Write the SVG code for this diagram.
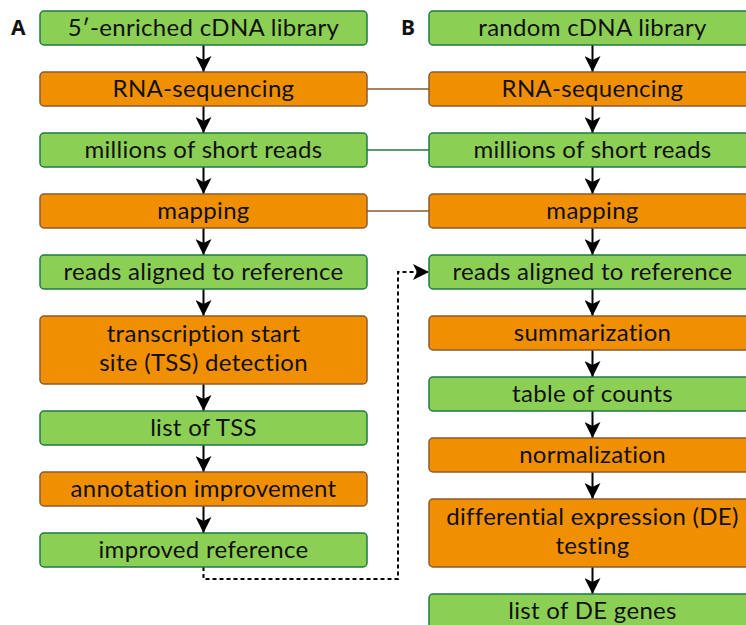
<svg xmlns="http://www.w3.org/2000/svg" width="746" height="625" viewBox="0 0 746 625">
<defs>
<marker id="ah" viewBox="0 0 16 16" refX="16" refY="8" markerWidth="16" markerHeight="16" markerUnits="userSpaceOnUse" orient="auto">
<path d="M0,0 L16,8 L0,16 L4,8 Z" fill="#000"/>
</marker>
<style>
.g{fill:#8ccf55;stroke:#1e7a45;stroke-width:1.5}
.o{fill:#f09000;stroke:#8a5a30;stroke-width:1.5}
.t{font-family:Lato,"Noto Sans",sans-serif;font-size:24px;letter-spacing:0.3px;fill:#111;text-anchor:middle}
.lbl{font-family:"Noto Sans",sans-serif;font-size:21px;font-weight:bold;fill:#111}
.a{stroke:#000;stroke-width:2;fill:none;marker-end:url(#ah)}
</style>
</defs>
<rect width="746" height="625" fill="#fff"/>
<text class="lbl" x="11" y="35">A</text>
<text class="lbl" x="401" y="35">B</text>
<g id="connectors">
<path class="a" d="M203.5,45 V72"/>
<path class="a" d="M203.5,106 V133"/>
<path class="a" d="M203.5,167 V194"/>
<path class="a" d="M203.5,228 V255"/>
<path class="a" d="M203.5,289 V316"/>
<path class="a" d="M203.5,384 V411"/>
<path class="a" d="M203.5,445 V472"/>
<path class="a" d="M203.5,506 V533"/>
<path class="a" d="M592.5,45 V72"/>
<path class="a" d="M592.5,106 V133"/>
<path class="a" d="M592.5,167 V194"/>
<path class="a" d="M592.5,228 V255"/>
<path class="a" d="M592.5,289 V316"/>
<path class="a" d="M592.5,350 V377"/>
<path class="a" d="M592.5,411 V438"/>
<path class="a" d="M592.5,472 V499"/>
<path class="a" d="M592.5,567 V594"/>
<path d="M367,89 H429" stroke="#8a5a30" stroke-width="1.5"/>
<path d="M367,150 H429" stroke="#1e7a45" stroke-width="1.5"/>
<path d="M367,211 H429" stroke="#8a5a30" stroke-width="1.5"/>
<path d="M203.5,567 V579 H398 V272 H429" stroke="#000" stroke-width="2" fill="none" stroke-dasharray="4,3" marker-end="url(#ah)"/>
</g>
<g id="a1"><rect class="g" x="40" y="11" width="327" height="34" rx="4"/><text class="t" x="203.5" y="36">5′-enriched cDNA library</text></g>
<g id="a2"><rect class="o" x="40" y="72" width="327" height="34" rx="4"/><text class="t" x="203.5" y="97">RNA-sequencing</text></g>
<g id="a3"><rect class="g" x="40" y="133" width="327" height="34" rx="4"/><text class="t" x="203.5" y="158">millions of short reads</text></g>
<g id="a4"><rect class="o" x="40" y="194" width="327" height="34" rx="4"/><text class="t" x="203.5" y="219">mapping</text></g>
<g id="a5"><rect class="g" x="40" y="255" width="327" height="34" rx="4"/><text class="t" x="203.5" y="280">reads aligned to reference</text></g>
<g id="a6"><rect class="o" x="40" y="316" width="327" height="68" rx="4"/><text class="t" x="203.5" y="342">transcription start</text><text class="t" x="203.5" y="371">site (TSS) detection</text></g>
<g id="a7"><rect class="g" x="40" y="411" width="327" height="34" rx="4"/><text class="t" x="203.5" y="436">list of TSS</text></g>
<g id="a8"><rect class="o" x="40" y="472" width="327" height="34" rx="4"/><text class="t" x="203.5" y="497">annotation improvement</text></g>
<g id="a9"><rect class="g" x="40" y="533" width="327" height="34" rx="4"/><text class="t" x="203.5" y="558">improved reference</text></g>
<g id="b1"><rect class="g" x="429" y="11" width="327" height="34" rx="4"/><text class="t" x="592.5" y="36">random cDNA library</text></g>
<g id="b2"><rect class="o" x="429" y="72" width="327" height="34" rx="4"/><text class="t" x="592.5" y="97">RNA-sequencing</text></g>
<g id="b3"><rect class="g" x="429" y="133" width="327" height="34" rx="4"/><text class="t" x="592.5" y="158">millions of short reads</text></g>
<g id="b4"><rect class="o" x="429" y="194" width="327" height="34" rx="4"/><text class="t" x="592.5" y="219">mapping</text></g>
<g id="b5"><rect class="g" x="429" y="255" width="327" height="34" rx="4"/><text class="t" x="592.5" y="280">reads aligned to reference</text></g>
<g id="b6"><rect class="o" x="429" y="316" width="327" height="34" rx="4"/><text class="t" x="592.5" y="341">summarization</text></g>
<g id="b7"><rect class="g" x="429" y="377" width="327" height="34" rx="4"/><text class="t" x="592.5" y="402">table of counts</text></g>
<g id="b8"><rect class="o" x="429" y="438" width="327" height="34" rx="4"/><text class="t" x="592.5" y="463">normalization</text></g>
<g id="b9"><rect class="o" x="429" y="499" width="327" height="68" rx="4"/><text class="t" x="592.5" y="525">differential expression (DE)</text><text class="t" x="592.5" y="554">testing</text></g>
<g id="b10"><rect class="g" x="429" y="594" width="327" height="34" rx="4"/><text class="t" x="592.5" y="619">list of DE genes</text></g>
</svg>
